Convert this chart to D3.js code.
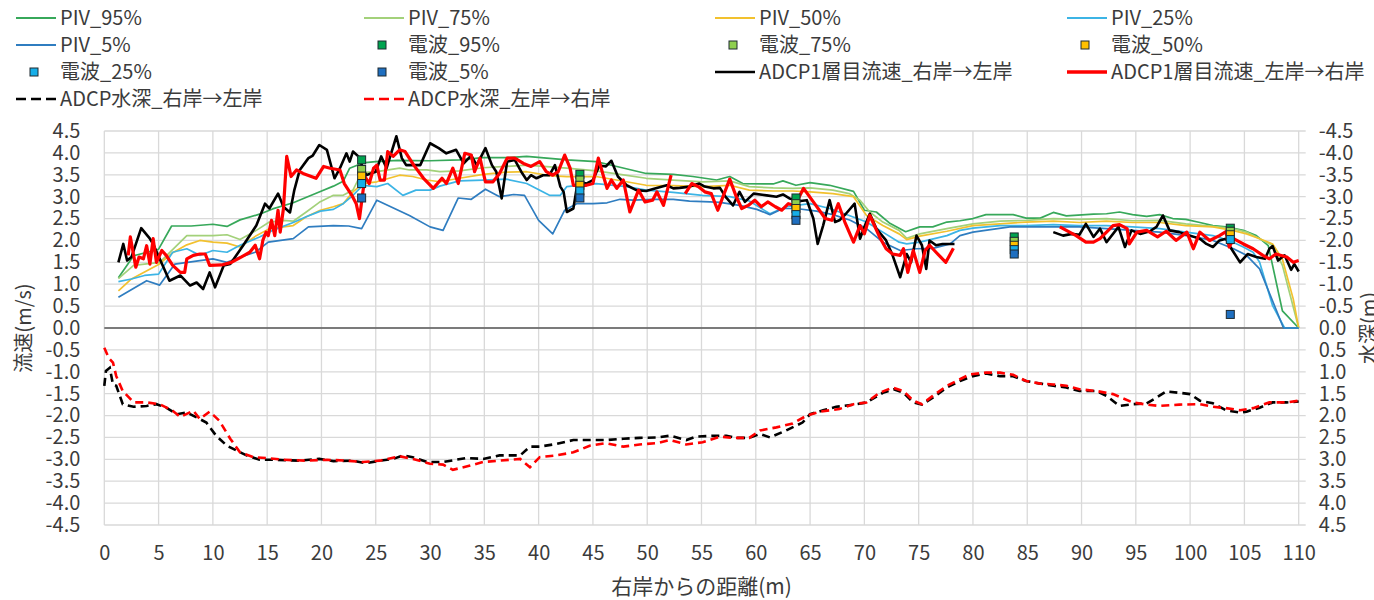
<!DOCTYPE html>
<html><head><meta charset="utf-8">
<script src="https://cdn.jsdelivr.net/npm/d3@7"></script>
<style>
body{margin:0;background:#fff;}
svg{display:block;font-family:"Noto Sans CJK JP","Noto Sans",sans-serif;}
</style>
</head><body>
<svg id="chart" width="1374" height="600"></svg>
<script>
// ---- tick labels ----
const xTickValues = [0,5,10,15,20,25,30,35,40,45,50,55,60,65,70,75,80,85,90,95,100,105,110];
const yTickValues = [-4.5,-4,-3.5,-3,-2.5,-2,-1.5,-1,-0.5,0,0.5,1,1.5,2,2.5,3,3.5,4,4.5];

// ---- PIV velocity percentiles [distance m, velocity m/s] ----
const piv95 = [[1.3,1.15],[2.7,1.65],[5,1.8],[6.2,2.33],[8,2.33],[10,2.37],[11.3,2.32],[12.5,2.47],[14.3,2.6],[15.5,2.72],[17.4,2.86],[19.9,3.12],[21.1,3.24],[22,3.35],[22.6,3.65],[23.8,3.77],[25,3.8],[27,3.83],[30,3.82],[32.7,3.84],[34.9,3.89],[37,3.89],[38.9,3.92],[42.6,3.84],[45.3,3.8],[47.2,3.69],[49.9,3.53],[52.4,3.51],[54.2,3.46],[56.4,3.38],[57.6,3.46],[58.8,3.3],[61.6,3.29],[62.5,3.36],[63.7,3.26],[65,3.32],[66.8,3.26],[69,3.12],[70,2.69],[71.1,2.65],[72.3,2.4],[73.8,2.2],[75.1,2.31],[76.3,2.31],[77.6,2.42],[78.8,2.45],[80,2.5],[81.2,2.59],[83.7,2.59],[84.9,2.51],[86.2,2.51],[87.4,2.64],[88.6,2.56],[91.1,2.6],[92.3,2.61],[93.5,2.65],[94.7,2.59],[96,2.55],[97.2,2.59],[98.4,2.5],[99.6,2.48],[100.9,2.41],[102.1,2.34],[103.3,2.31],[104.9,2.23],[106.1,2.11],[107.2,1.88],[108.5,0.39],[110,0]];
const piv75 = [[1.3,1.13],[2.7,1.43],[5.1,1.5],[7.6,2.11],[10,2.11],[11.3,2.13],[12.5,2.02],[14,2.23],[15.2,2.42],[16.5,2.46],[17.4,2.44],[18.6,2.65],[19.8,2.87],[21.1,3.03],[22,3.03],[22.9,3.15],[23.7,3.55],[25.1,3.57],[27.2,3.65],[28.1,3.61],[29.7,3.61],[30.9,3.57],[32.7,3.59],[34.9,3.66],[37,3.69],[38.9,3.72],[42.6,3.65],[45.3,3.59],[47.5,3.51],[49.9,3.42],[52.4,3.38],[55.1,3.34],[57.6,3.36],[59.4,3.23],[61.6,3.2],[63.4,3.19],[65,3.2],[67.1,3.15],[68.6,3.07],[69.6,2.92],[70.5,2.65],[71.7,2.42],[73.2,2.23],[73.9,2.05],[75.1,2.15],[77.6,2.27],[80,2.38],[82.5,2.44],[84.9,2.46],[87.4,2.5],[89.8,2.48],[92.3,2.5],[94.7,2.45],[97.2,2.46],[99.6,2.38],[102.1,2.32],[103.9,2.27],[105.2,2.19],[106.4,2.04],[107.6,1.89],[108.5,1.43],[110,0]];
const piv50 = [[1.3,0.85],[2.5,1.12],[5,1.45],[6.3,1.72],[7.6,1.9],[8.8,2.0],[10,1.96],[11.3,1.94],[12.5,1.85],[14,2.11],[15.2,2.27],[16.5,2.31],[17.4,2.34],[18.6,2.54],[19.9,2.69],[21.1,2.77],[22,2.84],[22.9,3.11],[23.8,3.3],[25.1,3.34],[27.2,3.49],[28.4,3.46],[29.7,3.38],[30.9,3.34],[32.7,3.42],[34.9,3.51],[37,3.56],[38.9,3.57],[41,3.48],[42.6,3.46],[45.3,3.46],[48.1,3.34],[49.9,3.26],[52.4,3.25],[55.1,3.23],[57.6,3.26],[59.4,3.15],[61.6,3.13],[63.4,3.13],[65,3.11],[67.1,3.07],[69,3.0],[70.2,2.57],[71.7,2.34],[73.2,2.15],[73.9,2.02],[75.1,2.1],[77.6,2.21],[80,2.34],[82.5,2.38],[84.9,2.42],[87.4,2.44],[89.8,2.41],[92.3,2.44],[94.7,2.41],[97.2,2.41],[99.6,2.34],[102.1,2.31],[103.9,2.23],[105.2,2.15],[106.4,2.04],[107.6,1.92],[108.5,1.57],[109.5,0.66],[110,0]];
const piv25 = [[1.3,1.06],[2.5,1.12],[3.7,1.2],[5,1.23],[6.3,1.73],[7.6,1.81],[8.8,1.66],[10,1.77],[11.3,1.73],[12.5,1.89],[14.3,2.08],[15.5,2.23],[17.4,2.41],[18.6,2.54],[19.9,2.67],[21.1,2.71],[22,2.84],[22.9,3.03],[23.8,3.26],[25.1,3.23],[26.1,3.3],[27.5,3.03],[28.7,3.15],[30,3.15],[30.9,3.24],[32.7,3.36],[34.9,3.38],[37,3.4],[38.9,3.3],[41,3.03],[42,3.03],[42.6,3.23],[45.3,3.3],[48.1,3.23],[49.9,3.15],[52.4,3.1],[55.1,3.03],[57.6,3.0],[59.4,2.9],[61.3,2.61],[62.8,2.77],[65,2.84],[66.8,2.73],[68.6,2.57],[70.2,2.42],[71.7,2.19],[73.2,1.96],[73.9,1.92],[75.1,1.96],[77.6,2.11],[78.8,2.23],[80,2.28],[82.5,2.34],[84.9,2.34],[87.4,2.36],[89.8,2.34],[92.3,2.34],[94.7,2.31],[97.2,2.27],[99.6,2.19],[102.1,2.11],[103.6,2.0],[104.9,1.85],[105.8,1.73],[106.4,1.5],[107.6,0.51],[108.7,0],[110,0]];
const piv5 = [[1.3,0.7],[3.9,1.08],[5.1,0.98],[6.5,1.46],[8.8,1.54],[10,1.58],[11.3,1.5],[12.5,1.62],[13.9,1.73],[15.1,1.96],[17.4,2.04],[18.8,2.31],[21.1,2.34],[22.5,2.33],[23.7,2.27],[25.1,2.92],[28.1,2.57],[30,2.31],[31.2,2.23],[32.6,2.97],[33.8,2.94],[35.1,3.17],[36.4,3.0],[37.7,3.05],[38.7,3.03],[40,2.46],[41.3,2.15],[42.4,2.69],[43.5,2.84],[45,2.84],[46.3,2.86],[47.5,2.94],[48.7,2.92],[50.5,2.94],[52.4,2.94],[53.9,2.9],[55.8,2.88],[56.7,2.87],[58.5,2.8],[60.1,2.71],[61.3,2.59],[62.5,2.73],[63.7,2.73],[65.6,2.67],[67.1,2.59],[68.7,2.46],[70.2,2.27],[71.7,1.96],[73.3,1.77],[74.8,1.81],[76.3,1.82],[77.9,1.92],[78.8,2.11],[80,2.19],[83.4,2.31],[84.9,2.31],[87.4,2.31],[89.8,2.31],[92.3,2.27],[94.7,2.23],[97.2,2.19],[99.7,2.11],[102.1,2.0],[104,1.81],[105.2,1.66],[106.4,1.35],[108.6,0],[110,0]];

// ---- radio (電波) velocity percentiles at measurement stations ----
const radioX = [23.7,43.8,63.7,83.8,103.7];
const radio95 = [3.84,3.51,2.97,2.08,2.28];
const radio75 = [3.62,3.38,2.84,1.98,2.21];
const radio50 = [3.47,3.26,2.73,1.89,2.13];
const radio25 = [3.3,3.13,2.59,1.79,2.02];
const radio5 = [2.97,2.97,2.46,1.69,0.31];

// ---- ADCP first-layer velocity (null = gap) ----
const adcpVelRL = [[1.3,1.5],[1.75,1.92],[2.1,1.54],[2.5,1.62],[3.4,2.28],[4.2,2.04],[4.5,1.92],[5.1,1.58],[6,1.08],[7,1.2],[7.9,0.97],[8.5,1.04],[9.1,0.89],[9.7,1.27],[10.2,0.93],[11,1.43],[11.6,1.46],[12.8,1.89],[14,2.34],[14.8,2.84],[15.2,2.73],[16,3.07],[16.5,2.77],[17.1,2.64],[17.5,3.15],[18,3.61],[18.8,3.88],[19.2,3.94],[19.8,4.18],[20.5,4.07],[21.2,3.42],[21.7,3.65],[22.3,3.99],[22.6,3.8],[22.9,4.03],[23.4,3.92],[24.1,3.49],[25,3.57],[25.5,3.92],[26,3.65],[26.9,4.38],[27.4,3.88],[27.8,3.72],[29.1,3.72],[30,4.22],[30.8,4.11],[31.5,3.99],[32.4,4.07],[33.1,3.76],[33.8,3.94],[34.3,3.72],[35.1,4.11],[35.7,3.72],[36.1,3.57],[36.6,2.96],[37.1,3.8],[37.8,3.84],[38.4,3.57],[38.9,3.38],[39.3,3.49],[39.8,3.42],[40.4,3.49],[41,3.49],[41.5,3.72],[42,3.23],[42.3,3.11],[42.6,2.65],[43.2,2.73],[43.6,3.34],[44.4,3.3],[45,3.38],[45.6,3.71],[46.2,3.69],[46.7,3.82],[47.3,3.46],[48.1,3.26],[49,3.15],[49.9,3.13],[50.8,3.19],[51.8,3.26],[52.4,3.19],[53,3.2],[53.9,3.23],[54.8,3.3],[55.3,3.23],[56.1,3.19],[56.7,3.2],[57.2,3.0],[57.9,2.8],[58.5,3.11],[59,2.88],[59.8,3.07],[61,3.03],[61.9,3.0],[62.5,3.05],[63.1,2.96],[64.1,2.9],[64.7,2.92],[65.3,2.5],[65.7,1.92],[66.2,2.34],[66.8,2.92],[67.3,2.42],[67.7,2.46],[68.3,2.61],[69.1,2.84],[69.6,2.04],[70,2.31],[70.5,2.61],[71.1,2.27],[72,2.0],[72.6,1.66],[73.3,1.16],[73.9,1.69],[74.3,1.5],[74.8,2.11],[75.3,1.89],[75.7,1.35],[76,2.0],[76.6,1.89],[77.2,1.92],[78.3,1.92],null,[87.4,2.19],[88.3,2.11],[89.1,2.15],[89.8,2.13],[90.4,2.38],[91.1,2.08],[91.7,2.27],[92.3,1.96],[93.4,2.31],[94,1.85],[94.6,2.23],[95.4,2.15],[96.3,2.21],[96.9,2.31],[97.5,2.57],[98.1,2.23],[99,2.19],[100,2.11],[100.9,2.04],[101.5,1.92],[102.1,1.85],[102.7,2.0],[103.3,2.04],[103.8,1.81],[104.6,1.5],[105.3,1.69],[106.1,1.62],[106.9,1.58],[107.3,1.81],[107.6,1.87],[108.1,1.54],[108.7,1.66],[109.3,1.33],[109.6,1.46],[110,1.29]];
const adcpVelLR = [[2.2,1.66],[2.4,2.08],[2.9,1.39],[3.2,1.62],[3.6,1.58],[3.9,1.88],[4.2,1.46],[4.5,2.04],[4.8,1.5],[5.3,1.77],[5.7,1.66],[6.3,1.43],[7,1.27],[7.4,1.27],[7.6,1.58],[8.2,1.66],[8.8,1.69],[9.3,1.69],[9.7,1.43],[10.8,1.44],[11.7,1.5],[12.6,1.62],[13.4,1.73],[13.9,1.89],[14.3,1.58],[14.6,2.0],[14.9,2.19],[15.1,2.11],[15.4,2.46],[15.7,2.11],[16,2.69],[16.2,2.19],[16.5,2.73],[16.8,3.92],[17.2,3.46],[17.7,3.61],[18.3,3.53],[19.5,3.42],[20.2,3.69],[20.8,3.65],[21.7,3.61],[22.1,3.3],[22.8,3.03],[23.2,2.84],[23.5,2.5],[24,3.46],[24.4,3.3],[24.8,3.65],[25.1,3.72],[25.4,3.38],[25.8,3.38],[26.1,4.03],[26.6,3.92],[27.2,4.07],[27.7,4.03],[28.5,3.72],[29.4,3.42],[30.3,3.19],[31.1,3.42],[31.5,3.3],[32.1,3.65],[32.6,3.3],[33.2,3.99],[33.8,3.95],[34.1,3.57],[34.6,3.88],[35.1,3.34],[35.8,3.34],[36.4,3.53],[37.1,3.88],[37.8,3.88],[38.6,3.76],[39.3,3.69],[40.1,3.8],[40.7,3.57],[41.3,3.49],[41.8,3.57],[42.4,3.95],[42.9,3.65],[43.2,3.26],[43.8,3.26],[44.4,3.26],[45,3.3],[45.5,3.88],[45.9,3.53],[46.3,3.19],[46.7,3.38],[47.2,3.19],[47.8,3.38],[48.4,2.65],[49.2,3.15],[49.8,2.88],[50.5,2.92],[50.9,3.11],[51.5,2.8],[52.2,3.49],null,[53.5,3.07],[54.1,3.3],[54.7,3.23],[55.3,3.11],[55.9,3.07],[56.5,2.69],[57.6,3.4],[58.2,3.0],[58.7,2.73],[59.3,2.8],[59.9,2.92],[60.5,2.77],[61.1,2.88],[61.8,2.77],[62.4,2.69],[63,2.84],[63.6,2.8],[64.4,3.19],[65.3,2.88],[66.4,2.5],[67,2.46],[67.6,2.84],[68.2,2.42],[69,1.96],[69.6,2.34],[70,2.15],[70.5,2.57],[71.4,2.08],[72,1.81],[72.6,1.69],[73.3,1.66],[73.6,1.81],[74,1.27],[74.5,1.77],[75.1,1.27],[75.6,1.77],[76,1.89],[76.6,1.73],[77.5,1.5],[78.2,1.82],null,[88,2.31],[88.6,2.23],[89.5,2.11],[90.4,1.96],[91.1,1.96],[91.7,2.04],[92.3,2.19],[92.9,2.34],[93.5,2.36],[94.2,2.27],[94.4,1.92],[95.1,2.19],[96,2.23],[97,2.08],[97.8,2.21],[98.7,2.0],[99.7,2.19],[100.3,1.81],[100.9,2.19],[101.8,2.0],[102.7,2.11],[103.3,2.2],[103.6,1.85],[104,2.04],[104.9,1.92],[105.8,1.81],[106.7,1.66],[107.3,1.58],[107.9,1.69],[108.9,1.62],[109.5,1.5],[110,1.54]];

// ---- ADCP water depth [distance m, depth m] (right axis, downward) ----
const adcpDepthRL = [[0,1.32],[0.15,0.98],[0.5,0.91],[0.8,1.29],[1.1,1.32],[1.7,1.74],[2.7,1.8],[3.9,1.78],[4.8,1.74],[5.7,1.82],[6.7,1.97],[7.6,1.93],[8.5,2.04],[9.4,2.16],[10.3,2.46],[11.3,2.69],[12.2,2.8],[13.1,2.91],[14.3,3.01],[15.6,3.01],[18,3.03],[19.8,2.99],[21.1,3.04],[22.9,3.03],[24.1,3.09],[25.4,3.03],[26.6,2.99],[27.5,2.91],[28.4,2.95],[29.7,3.06],[31.2,3.06],[32.4,3.01],[33.4,2.97],[34.9,2.99],[36.4,2.91],[38.3,2.91],[39.2,2.71],[40.1,2.71],[41.6,2.65],[43.2,2.56],[44.7,2.56],[46.2,2.56],[47.8,2.53],[49.3,2.51],[50.9,2.5],[52.1,2.46],[53.6,2.56],[54.5,2.48],[56.4,2.46],[57.3,2.46],[58.2,2.51],[59.4,2.51],[60.4,2.42],[61.3,2.5],[62.8,2.34],[64.3,2.16],[65,1.97],[66.2,1.88],[67.4,1.8],[69,1.75],[70.2,1.7],[71.7,1.48],[72.7,1.4],[73.6,1.48],[74.5,1.7],[75.3,1.75],[76.3,1.59],[77.6,1.36],[78.8,1.21],[80,1.1],[81.2,1.04],[82.5,1.1],[83.7,1.1],[84.9,1.21],[86.2,1.27],[87.4,1.32],[88.6,1.36],[89.8,1.44],[91.4,1.44],[92.3,1.55],[93.5,1.78],[94.7,1.74],[96,1.72],[96.9,1.59],[97.8,1.45],[99,1.48],[100,1.51],[100.9,1.66],[102.1,1.72],[103.3,1.88],[104.6,1.93],[105.2,1.91],[106.4,1.82],[107.6,1.7],[108.9,1.7],[110,1.68]];
const adcpDepthLR = [[0,0.45],[0.4,0.68],[0.8,0.79],[1.1,1.1],[1.7,1.44],[2.7,1.7],[3.9,1.7],[5.1,1.74],[6.3,1.89],[7,2.03],[8.2,1.89],[8.8,2.08],[9.7,1.91],[10.6,2.12],[11.6,2.53],[12.5,2.84],[13.7,2.95],[14.9,2.97],[16.5,3.01],[18.6,3.03],[20.5,3.01],[22.3,3.03],[23.8,3.06],[25.4,3.03],[27.2,2.93],[28.7,3.01],[30,3.1],[31.2,3.12],[32.1,3.24],[33.7,3.14],[34.9,3.06],[36.4,3.03],[38.3,2.99],[39.2,3.18],[40.1,2.95],[41.6,2.91],[43.2,2.84],[44.7,2.69],[46.2,2.63],[47.8,2.71],[49.3,2.66],[50.9,2.63],[52.1,2.56],[53.6,2.66],[55.1,2.61],[56.7,2.48],[57.9,2.51],[59.4,2.51],[60.4,2.34],[61.9,2.27],[63.4,2.18],[64.7,2.0],[65.9,1.91],[67.7,1.85],[69,1.74],[70.2,1.7],[71.4,1.48],[72.6,1.36],[73.6,1.44],[74.5,1.66],[75.3,1.74],[76.3,1.55],[77.6,1.32],[78.8,1.17],[79.7,1.06],[81.2,1.02],[82.5,1.02],[83.7,1.07],[84.9,1.21],[86.2,1.27],[87.4,1.29],[88.6,1.32],[89.8,1.4],[91.4,1.44],[92.9,1.51],[94.7,1.7],[96,1.75],[97.2,1.78],[99,1.75],[100.9,1.74],[102.1,1.8],[103.3,1.83],[104.6,1.88],[105.8,1.83],[107.3,1.7],[108.9,1.7],[110,1.66]];

// ---- layout ----
const svg = d3.select("#chart");
const x = d3.scaleLinear().domain([0,110]).range([104.3,1298.7]);
const y = d3.scaleLinear().domain([-4.5,4.5]).range([525,131]);
const yR = d3.scaleLinear().domain([-4.5,4.5]).range([131,525]);
const fmt = d => d.toFixed(1);
const txtColor = "#3b3b3b";
const gridColor = "#d9d9d9";

// gridlines
const grid = svg.append("g");
grid.selectAll(".h").data(yTickValues).join("line")
  .attr("x1", x(0)).attr("x2", x(110)+7)
  .attr("y1", d=>y(d)).attr("y2", d=>y(d))
  .attr("stroke", gridColor).attr("stroke-width", 1.3);
grid.selectAll(".v").data(xTickValues).join("line")
  .attr("x1", d=>x(d)).attr("x2", d=>x(d))
  .attr("y1", y(4.5)).attr("y2", y(-4.5))
  .attr("stroke", gridColor).attr("stroke-width", 1.3);

// axes labels
const axL = svg.append("g").attr("transform", `translate(${x(0)},0)`)
  .call(d3.axisLeft(y).tickValues(yTickValues).tickFormat(fmt).tickSize(0).tickPadding(24));
const axR = svg.append("g").attr("transform", `translate(${x(110)},0)`)
  .call(d3.axisRight(yR).tickValues(yTickValues).tickFormat(fmt).tickSize(0).tickPadding(20));
const axB = svg.append("g").attr("transform", `translate(0,${y(-4.5)})`)
  .call(d3.axisBottom(x).tickValues(xTickValues).tickFormat(d3.format("d")).tickSize(0).tickPadding(21));
[axL, axR, axB].forEach(a => {
  a.select(".domain").remove();
  a.selectAll("text").attr("fill", txtColor).style("font-size", "20px").style("font-family", "'Noto Sans CJK JP',sans-serif");
});

// zero line
svg.append("line").attr("x1", x(0)).attr("x2", x(110)).attr("y1", y(0)).attr("y2", y(0))
  .attr("stroke", "#595959").attr("stroke-width", 1.3);

// axis titles
svg.append("text").attr("transform", `translate(24,${y(0)}) rotate(-90)`)
  .attr("text-anchor","middle").attr("dy","0.35em").attr("fill", txtColor)
  .style("font-size","20px").text("流速(m/s)");
svg.append("text").attr("transform", `translate(1369,${y(0)}) rotate(-90)`)
  .attr("text-anchor","middle").attr("dy","0.35em").attr("fill", txtColor)
  .style("font-size","20px").text("水深(m)");
svg.append("text").attr("x", x(55)).attr("y", 587).attr("dy","0.35em")
  .attr("text-anchor","middle").attr("fill", txtColor).style("font-size","21px").text("右岸からの距離(m)");

// lines
const lineV = d3.line().defined(d => d !== null).x(d => x(d[0])).y(d => y(d[1]));
const lineD = d3.line().defined(d => d !== null).x(d => x(d[0])).y(d => yR(d[1]));

const pivSeries = [
  {name:"PIV_95%", data:piv95, color:"#37a85a"},
  {name:"PIV_75%", data:piv75, color:"#a3d17a"},
  {name:"PIV_50%", data:piv50, color:"#f2c12e"},
  {name:"PIV_25%", data:piv25, color:"#3cb4e5"},
  {name:"PIV_5%",  data:piv5,  color:"#2f7dc0"}
];
const plot = svg.append("g");
pivSeries.forEach(s => {
  plot.append("path").datum(s.data).attr("d", lineV).attr("fill","none")
    .attr("stroke", s.color).attr("stroke-width", 1.7).attr("stroke-linejoin","round");
});
plot.append("path").datum(adcpVelRL).attr("d", lineV).attr("fill","none")
  .attr("stroke","#000").attr("stroke-width",2.6).attr("stroke-linejoin","round");
plot.append("path").datum(adcpVelLR).attr("d", lineV).attr("fill","none")
  .attr("stroke","#ff0000").attr("stroke-width",3.2).attr("stroke-linejoin","round");
plot.append("path").datum(adcpDepthRL).attr("d", lineD).attr("fill","none")
  .attr("stroke","#000").attr("stroke-width",2.6).attr("stroke-dasharray","8,5");
plot.append("path").datum(adcpDepthLR).attr("d", lineD).attr("fill","none")
  .attr("stroke","#ff0000").attr("stroke-width",2.6).attr("stroke-dasharray","8,5");

// radio markers
const radioSeries = [
  {name:"電波_95%", vals:radio95, color:"#00a34f"},
  {name:"電波_75%", vals:radio75, color:"#8fcf4f"},
  {name:"電波_50%", vals:radio50, color:"#ffc000"},
  {name:"電波_25%", vals:radio25, color:"#16aee8"},
  {name:"電波_5%",  vals:radio5,  color:"#1f6fc0"}
];
const ms = 8;
radioSeries.forEach(s => {
  plot.selectAll(null).data(radioX.map((d,i)=>[d, s.vals[i]])).join("rect")
    .attr("x", d => x(d[0]) - ms/2).attr("y", d => y(d[1]) - ms/2)
    .attr("width", ms).attr("height", ms)
    .attr("fill", s.color).attr("stroke", "#1e2a30").attr("stroke-width", 1);
});

// legend
const colX = [16, 364, 715, 1067];
const rowY = [18, 45, 72, 99];
const legendItems = [
  {t:"line", name:"PIV_95%", color:"#37a85a", w:1.8},
  {t:"line", name:"PIV_75%", color:"#a3d17a", w:1.8},
  {t:"line", name:"PIV_50%", color:"#f2c12e", w:1.8},
  {t:"line", name:"PIV_25%", color:"#3cb4e5", w:1.8},
  {t:"line", name:"PIV_5%", color:"#2f7dc0", w:1.8},
  {t:"mark", name:"電波_95%", color:"#00a34f"},
  {t:"mark", name:"電波_75%", color:"#8fcf4f"},
  {t:"mark", name:"電波_50%", color:"#ffc000"},
  {t:"mark", name:"電波_25%", color:"#16aee8"},
  {t:"mark", name:"電波_5%", color:"#1f6fc0"},
  {t:"line", name:"ADCP1層目流速_右岸→左岸", color:"#000", w:2.6},
  {t:"line", name:"ADCP1層目流速_左岸→右岸", color:"#ff0000", w:3.4},
  {t:"dash", name:"ADCP水深_右岸→左岸", color:"#000", w:2.6},
  {t:"dash", name:"ADCP水深_左岸→右岸", color:"#ff0000", w:2.6}
];
const leg = svg.append("g");
legendItems.forEach((it, i) => {
  const cx = colX[i % 4], cy = rowY[Math.floor(i / 4)];
  const g = leg.append("g");
  if (it.t === "line" || it.t === "dash") {
    g.append("line").attr("x1", cx).attr("x2", cx + 40).attr("y1", cy).attr("y2", cy)
      .attr("stroke", it.color).attr("stroke-width", it.w)
      .attr("stroke-dasharray", it.t === "dash" ? "10,5" : null);
  } else {
    g.append("rect").attr("x", cx + 18 - ms/2).attr("y", cy - ms/2).attr("width", ms).attr("height", ms)
      .attr("fill", it.color).attr("stroke", "#1e2a30").attr("stroke-width", 1);
  }
  g.append("text").attr("x", cx + 44).attr("y", cy).attr("dy", "0.35em")
    .attr("fill", txtColor).style("font-size", "20px").text(it.name);
});
</script>
</body></html>
